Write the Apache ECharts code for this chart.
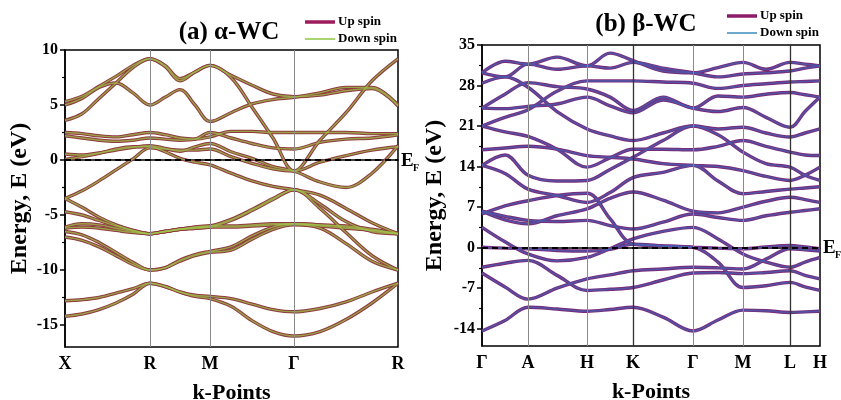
<!DOCTYPE html>
<html>
<head>
<meta charset="utf-8">
<title>WC band structure</title>
<script src="https://cdn.jsdelivr.net/npm/echarts@6/dist/echarts.min.js"></script>
<style>
  html, body {margin:0; padding:0; background:#fff;}
  #main {width:841px; height:400px;}
</style>
</head>
<body>
<div id="main"></div>
<script>
// ---------- (a) alpha-WC : path X-R-M-G-R ----------
var kAlpha = [0,17,34,51,68,85,100,115,130,145,166,187,208,229,255,281,307,333];
var alphaTicks = [0,85,145,229,333];
var alphaTickNames = ['X','R','M','Γ','R'];
// band energies (eV) at each kAlpha point; down spin lies on top of up spin
var alphaBands = [
  [-14.2,-14.0,-13.6,-13.0,-12.2,-11.2,-11.5,-12.0,-12.4,-12.6,-13.3,-14.6,-15.6,-16.0,-15.6,-14.5,-13.0,-11.2],
  [-12.8,-12.7,-12.5,-12.1,-11.7,-11.2,-11.5,-12.0,-12.3,-12.4,-12.6,-13.1,-13.6,-13.8,-13.5,-12.9,-12.0,-11.2],
  [-7.0,-7.3,-7.9,-8.7,-9.5,-10.0,-9.8,-9.1,-8.6,-8.3,-7.9,-6.9,-6.1,-5.8,-6.0,-6.2,-6.4,-6.7],
  [-6.5,-6.8,-7.5,-8.4,-9.3,-10.0,-9.8,-9.2,-8.7,-8.4,-8.2,-7.2,-6.3,-5.9,-6.2,-7.6,-9.2,-10.0],
  [-6.2,-6.1,-6.2,-6.4,-6.6,-6.7,-6.5,-6.3,-6.1,-6.0,-6.0,-5.9,-5.8,-5.8,-5.9,-6.1,-6.4,-6.7],
  [-6.1,-5.8,-5.9,-6.2,-6.5,-6.7,-6.5,-6.3,-6.1,-6.0,-5.4,-4.5,-3.5,-2.7,-4.0,-5.6,-6.5,-6.7],
  [-4.7,-5.0,-5.5,-6.0,-6.4,-6.7,-6.5,-6.3,-6.2,-6.1,-5.5,-4.6,-3.6,-2.7,-4.4,-6.6,-8.7,-10.0],
  [-3.5,-4.3,-5.2,-5.9,-6.4,-6.7,-6.5,-6.3,-6.2,-6.1,-6.1,-6.0,-5.9,-5.8,-5.9,-6.0,-6.3,-6.7],
  [-3.5,-2.8,-1.9,-0.9,0.1,1.1,1.0,0.9,0.9,1.0,0.3,-0.3,-0.8,-1.0,-0.2,0.4,0.9,1.2],
  [0.55,0.45,0.65,0.9,1.15,1.3,1.06,0.8,1.2,1.5,0.75,0.15,-0.6,-1.0,-2.0,-2.5,-1.2,1.3],
  [0.05,0.3,0.6,1.0,1.2,1.2,0.75,0.15,-0.2,-0.45,-1.2,-1.9,-2.4,-2.7,-3.2,-4.4,-5.7,-6.7],
  [2.2,2.0,1.8,1.7,1.8,2.0,1.9,1.8,1.9,2.5,2.0,1.5,1.1,1.0,1.6,1.9,2.0,2.3],
  [2.5,2.4,2.2,2.1,2.3,2.5,2.3,2.0,1.9,2.1,2.6,2.6,2.5,2.5,2.5,2.5,2.4,2.4],
  [5.0,5.6,6.6,7.0,6.1,5.0,5.7,6.4,5.0,3.5,4.3,5.1,5.5,5.7,6.1,6.6,6.6,5.0],
  [5.3,5.8,6.7,7.6,8.6,9.2,8.5,7.2,8.0,8.6,7.7,6.8,6.0,5.75,5.9,6.3,6.5,4.9],
  [3.6,4.2,5.6,7.0,8.4,9.2,8.6,7.4,8.0,8.6,7.5,4.8,2.0,-1.0,1.8,4.3,7.2,9.2]
];

// ---------- (b) beta-WC : path G-A-H-K-G-M-L-H ----------
var kBeta = [0,23,46,75,105,128,151,181,211,236,261,284,308,323,338];
var betaTicks = [0,46,105,151,211,261,308,338];
var betaTickNames = ['Γ','A','H','K','Γ','M','L','H'];
// band energies (eV) at each kBeta point
var betaBands = [
  [-14.4,-12.6,-10.3,-10.6,-11.0,-10.7,-10.3,-12.0,-14.4,-12.5,-10.8,-10.9,-11.2,-11.1,-11.0],
  [-4.4,-6.8,-8.9,-7.0,-5.4,-4.7,-4.0,-3.7,-3.4,-3.5,-3.7,-2.0,-0.2,-0.4,-0.6],
  [-3.4,-2.7,-2.2,-4.8,-7.4,-7.2,-6.9,-5.6,-4.4,-4.3,-4.5,-4.3,-4.0,-4.8,-5.4],
  [0.05,-0.1,-0.2,-0.5,-0.6,-0.3,0.6,0.3,0.05,-2.5,-6.9,-6.6,-6.0,-6.8,-7.4],
  [3.5,1.0,-1.1,-2.3,-1.7,-0.2,1.5,2.8,3.5,1.5,-1.1,-2.5,-3.4,-2.5,-1.7],
  [5.8,7.2,8.1,9.0,9.4,5.0,0.6,0.3,0.05,-0.1,-0.2,0.1,0.35,0.1,-0.2],
  [6.3,5.4,4.7,4.5,4.7,3.8,3.2,4.4,5.8,5.2,4.7,5.5,6.1,6.4,6.7],
  [6.3,4.8,4.1,5.5,6.7,8.5,9.6,8.2,6.3,6.0,7.0,8.0,8.7,8.3,7.8],
  [14.2,12.8,10.1,9.0,7.8,9.5,12.1,13.0,14.2,11.5,9.3,9.7,10.1,10.3,10.5],
  [14.2,16.0,12.5,11.5,11.6,13.5,15.6,18.5,21.0,19.5,16.5,14.5,13.9,12.5,11.6],
  [16.9,17.2,17.5,17.0,15.9,15.6,15.3,14.5,14.2,14.0,13.3,12.3,11.6,12.5,13.9],
  [21.0,20.0,19.2,17.0,13.9,15.5,17.0,17.0,16.9,17.5,18.5,17.5,16.5,16.0,15.9],
  [21.0,22.5,23.8,27.0,28.8,28.8,28.8,28.6,28.4,27.5,28.0,28.3,28.6,28.7,28.8],
  [24.1,24.0,24.4,24.8,26.0,24.5,23.3,25.5,24.1,23.5,24.2,22.5,20.8,23.5,26.0],
  [28.4,29.5,27.7,23.5,20.5,19.3,18.5,19.8,21.0,20.5,20.8,19.8,19.1,19.8,20.5],
  [24.1,26.5,28.5,27.8,27.4,26.0,23.7,26.0,24.1,26.2,26.0,26.5,26.8,26.4,26.0],
  [30.2,29.5,31.7,30.8,31.4,31.0,32.0,31.0,30.2,29.5,30.0,30.2,30.5,31.0,31.4],
  [30.2,32.2,31.7,32.9,31.4,33.6,32.3,30.5,30.2,31.1,32.0,30.8,32.0,31.7,31.4]
];

var FONT = 'Liberation Serif';

function bandSeries(k, bands, idx, upColor, downColor, upW, downW, downOp){
  var out = [];
  bands.forEach(function(b){
    var pts = k.map(function(kv, i){ return [kv, b[i]]; });
    out.push({type:'line', xAxisIndex:idx, yAxisIndex:idx*2, data:pts, smooth:0.35,
      showSymbol:false, silent:true, z:3, lineStyle:{color:upColor, width:upW}});
    out.push({type:'line', xAxisIndex:idx, yAxisIndex:idx*2, data:pts, smooth:0.35,
      showSymbol:false, silent:true, z:4, lineStyle:{color:downColor, width:downW, opacity:downOp}});
  });
  return out;
}

function guideSeries(idx, ticks, darkAt){
  var inner = ticks.slice(1, ticks.length-1);
  return [
    {type:'line', xAxisIndex:idx, yAxisIndex:idx*2, data:[], z:1, silent:true,
      markLine:{symbol:'none', silent:true, label:{show:false}, animation:false,
        lineStyle:{color:'#8a8a8a', width:1, type:'solid'},
        data: inner.map(function(v){
          return darkAt.indexOf(v) >= 0 ? {xAxis:v, lineStyle:{color:'#333', width:1.3}} : {xAxis:v};
        })}},
    {type:'line', xAxisIndex:idx, yAxisIndex:idx*2, data:[], z:10, silent:true,
      markLine:{symbol:'none', silent:true, label:{show:false}, animation:false,
        lineStyle:{color:'#000', width:2, type:[6,4]},
        data:[{yAxis:0}]}}
  ];
}

function xAx(idx, max, ticks, names){
  return {type:'value', gridIndex:idx, min:0, max:max,
    name:'k-Points', nameLocation:'middle', nameGap:35,
    nameTextStyle:{fontFamily:FONT, fontWeight:'bold', fontSize:22, color:'#000'},
    axisLine:{lineStyle:{color:'#000', width:1.5}},
    axisTick:{show:false},
    splitLine:{show:false},
    axisLabel:{customValues:ticks, margin:8, fontFamily:FONT, fontWeight:'bold', fontSize:18, color:'#000',
      formatter:function(v){ return names[ticks.indexOf(v)]; }}};
}

function yAxes(idx, min, max, major, minor, gap){
  return [
    {type:'value', gridIndex:idx, min:min, max:max, position:'left',
      name:'Energy, E (eV)', nameLocation:'middle', nameGap:gap,
      nameTextStyle:{fontFamily:FONT, fontWeight:'bold', fontSize:24, color:'#000'},
      axisLine:{show:true, lineStyle:{color:'#000', width:1.5}},
      axisTick:{show:true, customValues:major, length:5, lineStyle:{color:'#000', width:1.5}},
      splitLine:{show:false},
      axisLabel:{customValues:major, margin:7, fontFamily:FONT, fontWeight:'bold', fontSize:16, color:'#000'}},
    {type:'value', gridIndex:idx, min:min, max:max, position:'left', offset:0,
      axisLine:{show:false},
      axisTick:{show:true, customValues:minor, length:3, lineStyle:{color:'#000', width:1.2}},
      splitLine:{show:false},
      axisLabel:{show:false}}
  ];
}

function legend(x, y1, y2, upColor, downColor){
  var ts = {fontFamily:FONT, fontWeight:'bold', fontSize:13, fill:'#000', verticalAlign:'middle'};
  return [
    {type:'line', shape:{x1:x, y1:y1, x2:x+30, y2:y1}, style:{stroke:upColor, lineWidth:3.5}},
    {type:'text', x:x+33, y:y1, style:Object.assign({text:'Up spin'}, ts)},
    {type:'line', shape:{x1:x, y1:y2, x2:x+30, y2:y2}, style:{stroke:downColor, lineWidth:1.5}},
    {type:'text', x:x+33, y:y2, style:Object.assign({text:'Down spin'}, ts)}
  ];
}

function fermiLabel(x, y){
  return [
    {type:'text', x:x, y:y, style:{text:'E', fontFamily:FONT, fontWeight:'bold', fontSize:19, fill:'#000', verticalAlign:'middle'}},
    {type:'text', x:x+12, y:y+7, style:{text:'F', fontFamily:FONT, fontWeight:'bold', fontSize:10, fill:'#000', verticalAlign:'middle'}}
  ];
}

var chart = echarts.init(document.getElementById('main'), null, {renderer:'canvas'});

var series = []
  .concat(guideSeries(0, alphaTicks, []))
  .concat(bandSeries(kAlpha, alphaBands, 0, '#8f3a40', '#9fc24a', 3.4, 1.4, 0.75))
  .concat(guideSeries(1, betaTicks, [151, 308]))
  .concat(bandSeries(kBeta, betaBands, 1, '#7a2b78', '#4262b6', 3.4, 1.6, 0.7));

chart.setOption({
  animation:false,
  backgroundColor:'#fff',
  grid:[
    {left:65, top:50, width:333, height:297, show:true, borderColor:'#000', borderWidth:1.5,
      backgroundColor:'transparent', outerBoundsMode:'none'},
    {left:482, top:45, width:338, height:301, show:true, borderColor:'#000', borderWidth:1.5,
      backgroundColor:'transparent', outerBoundsMode:'none'}
  ],
  xAxis:[xAx(0, 333, alphaTicks, alphaTickNames), xAx(1, 338, betaTicks, betaTickNames)],
  yAxis:[].concat(
    yAxes(0, -17, 10, [-15,-10,-5,0,5,10], [-12.5,-7.5,-2.5,2.5,7.5], 33),
    yAxes(1, -17, 35, [-14,-7,0,7,14,21,28,35], [-10.5,-3.5,3.5,10.5,17.5,24.5,31.5], 35)
  ),
  series:series,
  graphic:[].concat(
    [{type:'text', x:229, y:33, style:{text:'(a) α-WC', fontFamily:FONT, fontWeight:'bold', fontSize:25, fill:'#000', align:'center', verticalAlign:'middle'}},
     {type:'text', x:646, y:25, style:{text:'(b) β-WC', fontFamily:FONT, fontWeight:'bold', fontSize:25, fill:'#000', align:'center', verticalAlign:'middle'}}],
    legend(305, 22, 39, '#9c1c5c', '#8cc63f'),
    legend(727, 16, 33, '#8b1a6a', '#3c8dbc'),
    fermiLabel(401, 161),
    fermiLabel(823, 248)
  )
});
</script>
</body>
</html>
